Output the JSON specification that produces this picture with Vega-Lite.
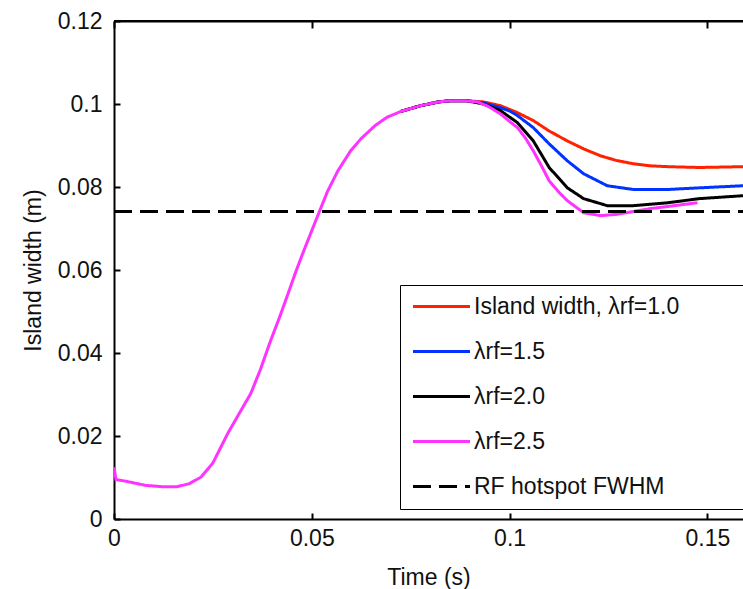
{
  "$schema": "https://vega.github.io/schema/vega-lite/v6.json",
  "autosize": {"type": "none"},
  "width": 629,
  "height": 498,
  "padding": {"left": 114, "top": 21, "right": 0, "bottom": 70},
  "background": "white",
  "config": {
    "font": "Liberation Sans",
    "view": {"stroke": null},
    "axis": {"grid": false, "labelFlush": false, "domainColor": "black", "domainWidth": 2, "tickColor": "black", "tickWidth": 2, "labelColor": "#111", "titleColor": "#111", "labelFontSize": 23, "titleFontSize": 23, "titleFontWeight": "normal", "labelFont": "Liberation Sans", "titleFont": "Liberation Sans"}
  },
  "data": {"values": [
    {"series": "Island width, λrf=1.0", "t": 0.0725, "v": 0.0982},
    {"series": "Island width, λrf=1.0", "t": 0.0775, "v": 0.0996},
    {"series": "Island width, λrf=1.0", "t": 0.082, "v": 0.1005},
    {"series": "Island width, λrf=1.0", "t": 0.0851, "v": 0.1008},
    {"series": "Island width, λrf=1.0", "t": 0.089, "v": 0.1008},
    {"series": "Island width, λrf=1.0", "t": 0.0934, "v": 0.1005},
    {"series": "Island width, λrf=1.0", "t": 0.0977, "v": 0.0996},
    {"series": "Island width, λrf=1.0", "t": 0.102, "v": 0.0979},
    {"series": "Island width, λrf=1.0", "t": 0.106, "v": 0.096},
    {"series": "Island width, λrf=1.0", "t": 0.11, "v": 0.0935},
    {"series": "Island width, λrf=1.0", "t": 0.1146, "v": 0.0911},
    {"series": "Island width, λrf=1.0", "t": 0.1187, "v": 0.0892},
    {"series": "Island width, λrf=1.0", "t": 0.123, "v": 0.0875},
    {"series": "Island width, λrf=1.0", "t": 0.127, "v": 0.0864},
    {"series": "Island width, λrf=1.0", "t": 0.1313, "v": 0.0856},
    {"series": "Island width, λrf=1.0", "t": 0.1355, "v": 0.0851},
    {"series": "Island width, λrf=1.0", "t": 0.14, "v": 0.0849},
    {"series": "Island width, λrf=1.0", "t": 0.148, "v": 0.0847},
    {"series": "Island width, λrf=1.0", "t": 0.159, "v": 0.0849},

    {"series": "λrf=1.5", "t": 0.0725, "v": 0.0982},
    {"series": "λrf=1.5", "t": 0.0775, "v": 0.0996},
    {"series": "λrf=1.5", "t": 0.082, "v": 0.1005},
    {"series": "λrf=1.5", "t": 0.0851, "v": 0.1008},
    {"series": "λrf=1.5", "t": 0.089, "v": 0.1008},
    {"series": "λrf=1.5", "t": 0.0934, "v": 0.1003},
    {"series": "λrf=1.5", "t": 0.0977, "v": 0.0991},
    {"series": "λrf=1.5", "t": 0.1, "v": 0.0983},
    {"series": "λrf=1.5", "t": 0.102, "v": 0.0972},
    {"series": "λrf=1.5", "t": 0.106, "v": 0.0943},
    {"series": "λrf=1.5", "t": 0.11, "v": 0.0904},
    {"series": "λrf=1.5", "t": 0.1146, "v": 0.0863},
    {"series": "λrf=1.5", "t": 0.1187, "v": 0.0832},
    {"series": "λrf=1.5", "t": 0.1247, "v": 0.0803},
    {"series": "λrf=1.5", "t": 0.1313, "v": 0.0794},
    {"series": "λrf=1.5", "t": 0.14, "v": 0.0794},
    {"series": "λrf=1.5", "t": 0.148, "v": 0.0798},
    {"series": "λrf=1.5", "t": 0.159, "v": 0.0803},

    {"series": "λrf=2.0", "t": 0.0725, "v": 0.0982},
    {"series": "λrf=2.0", "t": 0.0775, "v": 0.0996},
    {"series": "λrf=2.0", "t": 0.082, "v": 0.1005},
    {"series": "λrf=2.0", "t": 0.0851, "v": 0.1008},
    {"series": "λrf=2.0", "t": 0.089, "v": 0.1008},
    {"series": "λrf=2.0", "t": 0.0934, "v": 0.1},
    {"series": "λrf=2.0", "t": 0.0977, "v": 0.0984},
    {"series": "λrf=2.0", "t": 0.102, "v": 0.0955},
    {"series": "λrf=2.0", "t": 0.106, "v": 0.0911},
    {"series": "λrf=2.0", "t": 0.11, "v": 0.0847},
    {"series": "λrf=2.0", "t": 0.1146, "v": 0.0798},
    {"series": "λrf=2.0", "t": 0.1187, "v": 0.0772},
    {"series": "λrf=2.0", "t": 0.1247, "v": 0.0755},
    {"series": "λrf=2.0", "t": 0.1313, "v": 0.0755},
    {"series": "λrf=2.0", "t": 0.14, "v": 0.0762},
    {"series": "λrf=2.0", "t": 0.148, "v": 0.0772},
    {"series": "λrf=2.0", "t": 0.159, "v": 0.0779},

    {"series": "λrf=2.5", "t": 0.0, "v": 0.0125},
    {"series": "λrf=2.5", "t": 0.0005, "v": 0.0095},
    {"series": "λrf=2.5", "t": 0.003, "v": 0.0091},
    {"series": "λrf=2.5", "t": 0.008, "v": 0.0081},
    {"series": "λrf=2.5", "t": 0.012, "v": 0.0078},
    {"series": "λrf=2.5", "t": 0.016, "v": 0.0078},
    {"series": "λrf=2.5", "t": 0.019, "v": 0.0085},
    {"series": "λrf=2.5", "t": 0.022, "v": 0.0101},
    {"series": "λrf=2.5", "t": 0.025, "v": 0.0135},
    {"series": "λrf=2.5", "t": 0.0288, "v": 0.0207},
    {"series": "λrf=2.5", "t": 0.032, "v": 0.026},
    {"series": "λrf=2.5", "t": 0.0346, "v": 0.0303},
    {"series": "λrf=2.5", "t": 0.037, "v": 0.036},
    {"series": "λrf=2.5", "t": 0.0396, "v": 0.043},
    {"series": "λrf=2.5", "t": 0.042, "v": 0.049},
    {"series": "λrf=2.5", "t": 0.044, "v": 0.0543},
    {"series": "λrf=2.5", "t": 0.046, "v": 0.0597},
    {"series": "λrf=2.5", "t": 0.048, "v": 0.0647},
    {"series": "λrf=2.5", "t": 0.05, "v": 0.0695},
    {"series": "λrf=2.5", "t": 0.0518, "v": 0.0738},
    {"series": "λrf=2.5", "t": 0.054, "v": 0.079},
    {"series": "λrf=2.5", "t": 0.0566, "v": 0.0839},
    {"series": "λrf=2.5", "t": 0.0598, "v": 0.0887},
    {"series": "λrf=2.5", "t": 0.0624, "v": 0.0916},
    {"series": "λrf=2.5", "t": 0.066, "v": 0.0948},
    {"series": "λrf=2.5", "t": 0.069, "v": 0.0968},
    {"series": "λrf=2.5", "t": 0.0725, "v": 0.0982},
    {"series": "λrf=2.5", "t": 0.0775, "v": 0.0996},
    {"series": "λrf=2.5", "t": 0.082, "v": 0.1005},
    {"series": "λrf=2.5", "t": 0.0851, "v": 0.1008},
    {"series": "λrf=2.5", "t": 0.0885, "v": 0.1008},
    {"series": "λrf=2.5", "t": 0.0919, "v": 0.1005},
    {"series": "λrf=2.5", "t": 0.0945, "v": 0.0995},
    {"series": "λrf=2.5", "t": 0.0977, "v": 0.0976},
    {"series": "λrf=2.5", "t": 0.1, "v": 0.0958},
    {"series": "λrf=2.5", "t": 0.102, "v": 0.0943},
    {"series": "λrf=2.5", "t": 0.104, "v": 0.0918},
    {"series": "λrf=2.5", "t": 0.106, "v": 0.0887},
    {"series": "λrf=2.5", "t": 0.108, "v": 0.0852},
    {"series": "λrf=2.5", "t": 0.11, "v": 0.0815},
    {"series": "λrf=2.5", "t": 0.1125, "v": 0.0787},
    {"series": "λrf=2.5", "t": 0.1146, "v": 0.0767},
    {"series": "λrf=2.5", "t": 0.1187, "v": 0.0738},
    {"series": "λrf=2.5", "t": 0.123, "v": 0.0731},
    {"series": "λrf=2.5", "t": 0.127, "v": 0.0734},
    {"series": "λrf=2.5", "t": 0.1356, "v": 0.0748},
    {"series": "λrf=2.5", "t": 0.1475, "v": 0.0762},

    {"series": "RF hotspot FWHM", "t": 0.0, "v": 0.0741},
    {"series": "RF hotspot FWHM", "t": 0.159, "v": 0.0741}
  ]},
  "resolve": {"axis": {"x": "independent"}},
  "layer": [
    {
      "mark": {"type": "line", "strokeWidth": 3, "clip": true},
      "encoding": {
        "x": {"field": "t", "type": "quantitative", "title": "Time (s)",
              "scale": {"domain": [0, 0.159], "nice": false, "zero": false},
              "axis": {"values": [0, 0.05, 0.1, 0.15], "format": "~g", "tickSize": -6, "labelPadding": 14, "titlePadding": 16}},
        "y": {"field": "v", "type": "quantitative", "title": "Island width (m)",
              "scale": {"domain": [0, 0.12], "nice": false},
              "axis": {"values": [0, 0.02, 0.04, 0.06, 0.08, 0.1, 0.12], "format": "~g", "tickSize": -6, "labelPadding": 18, "titlePadding": 12}},
        "color": {"field": "series", "type": "nominal", "title": null,
                  "scale": {"domain": ["Island width, λrf=1.0", "λrf=1.5", "λrf=2.0", "λrf=2.5", "RF hotspot FWHM"],
                            "range": ["#ff2200", "#0033ff", "#000000", "#ff33ff", "#000000"]},
                  "legend": {"orient": "none", "legendX": 286, "legendY": 264, "symbolType": "M-3,0H3", "symbolSize": 361, "symbolStrokeWidth": 3, "symbolFillColor": "transparent", "symbolOffset": 20,
                             "labelFontSize": 23, "labelColor": "#111", "labelFont": "Liberation Sans", "labelOffset": 21, "rowPadding": 21,
                             "padding": 10, "fillColor": "white", "strokeColor": "black", "labelLimit": 600,
                             "labelExpr": "datum.label + '\u2003\u2003\u2002\u200b'"}},
        "strokeDash": {"field": "series", "type": "nominal", "title": null,
                       "scale": {"domain": ["Island width, λrf=1.0", "λrf=1.5", "λrf=2.0", "λrf=2.5", "RF hotspot FWHM"],
                                 "range": [[1, 0], [1, 0], [1, 0], [1, 0], [18, 8]]}}
      }
    },
    {
      "mark": {"type": "rule", "color": "black", "strokeWidth": 2},
      "encoding": {
        "x": {"aggregate": "min", "field": "t", "type": "quantitative", "title": null,
              "axis": {"orient": "top", "values": [0, 0.05, 0.1, 0.15], "labels": false, "title": null, "tickSize": -7, "tickWidth": 2, "domainWidth": 2}},
        "x2": {"aggregate": "max", "field": "t"},
        "y": {"datum": 0.12}
      }
    }
  ]
}
